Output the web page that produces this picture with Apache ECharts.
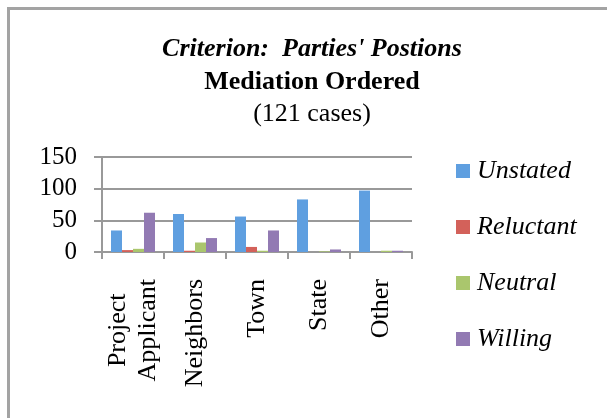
<!DOCTYPE html>
<html>
<head>
<meta charset="utf-8">
<script src="https://cdn.jsdelivr.net/npm/echarts@6/dist/echarts.min.js"></script>
<style>
html,body{margin:0;padding:0;background:#fff;}
#main{width:607px;height:418px;}
</style>
</head>
<body>
<div id="main"></div>
<script>
// parties' positions, mediation ordered
var categories = ['Project\nApplicant', 'Neighbors', 'Town', 'State', 'Other'];
var unstated  = [34, 60, 56, 83, 97];
var reluctant = [3, 2, 8, 0, 0];
var neutral   = [5, 15, 2, 1, 2];
var willing   = [62, 22, 34, 4, 2];
var yTicks = [0, 50, 100, 150];

var serif = "'Liberation Serif', 'Times New Roman', serif";
var colors = ['#5F9FE0', '#D3615A', '#AAC66D', '#927AB3'];

var myChart = echarts.init(document.getElementById('main'));
var option = {
	backgroundColor: '#fff',
	color: colors,
	animation: false,
	graphic: [{
		type: 'rect',
		shape: {x: 8.5, y: 8.5, width: 620, height: 430},
		style: {fill: 'none', stroke: '#a3a3a3', lineWidth: 3}
	}],
	title: {
		left: 307,
		top: 28,
		textAlign: 'center',
		text: "{a|Criterion:  Parties' Postions}\n{b|Mediation Ordered}\n{c|(121 cases)}",
		textStyle: {
			fontWeight: 'normal',
			rich: {
				a: {fontFamily: serif, fontSize: 26, fontWeight: 'bold', fontStyle: 'italic', color: '#000', lineHeight: 33},
				b: {fontFamily: serif, fontSize: 26, fontWeight: 'bold', color: '#000', lineHeight: 33},
				c: {fontFamily: serif, fontSize: 26, fontWeight: 'normal', color: '#000', lineHeight: 30}
			}
		}
	},
	legend: {
		orient: 'vertical',
		left: 451,
		top: 153,
		itemWidth: 14,
		itemHeight: 14,
		itemGap: 30,
		icon: 'rect',
		textStyle: {fontFamily: serif, fontSize: 26, fontStyle: 'italic', color: '#000', padding: [0, 0, 0, 2]},
		data: ['Unstated', 'Reluctant', 'Neutral', 'Willing']
	},
	grid: {left: 102, right: 195, top: 157, bottom: 166},
	xAxis: {
		type: 'category',
		data: categories,
		axisLine: {lineStyle: {color: '#999', width: 2}},
		axisTick: {show: true, length: 7, lineStyle: {color: '#999', width: 2}},
		axisLabel: {
			rotate: 90,
			margin: 27,
			interval: 0,
			formatter: function (v) {
				return v.split('\n').map(function (s) { return '{c|' + s + '}'; }).join('\n');
			},
			rich: {
				c: {fontFamily: serif, fontSize: 26, color: '#000', align: 'center', lineHeight: 30, padding: [0, 0, 0, 0]}
			}
		}
	},
	yAxis: {
		type: 'value',
		min: 0,
		max: 150,
		interval: 50,
		axisLine: {show: true, lineStyle: {color: '#999', width: 2}},
		axisTick: {show: true, length: 8, lineStyle: {color: '#999', width: 2}},
		splitLine: {lineStyle: {color: '#999', width: 2}},
		axisLabel: {
			margin: 25,
			fontFamily: serif,
			fontSize: 25,
			color: '#000',
			formatter: function (v) { return yTicks.indexOf(v) >= 0 ? String(v) : ''; }
		}
	},
	series: [
		{name: 'Unstated', type: 'bar', data: unstated, barGap: '0%', barCategoryGap: '29%'},
		{name: 'Reluctant', type: 'bar', data: reluctant},
		{name: 'Neutral', type: 'bar', data: neutral},
		{name: 'Willing', type: 'bar', data: willing}
	]
};
myChart.setOption(option);
</script>
</body>
</html>
